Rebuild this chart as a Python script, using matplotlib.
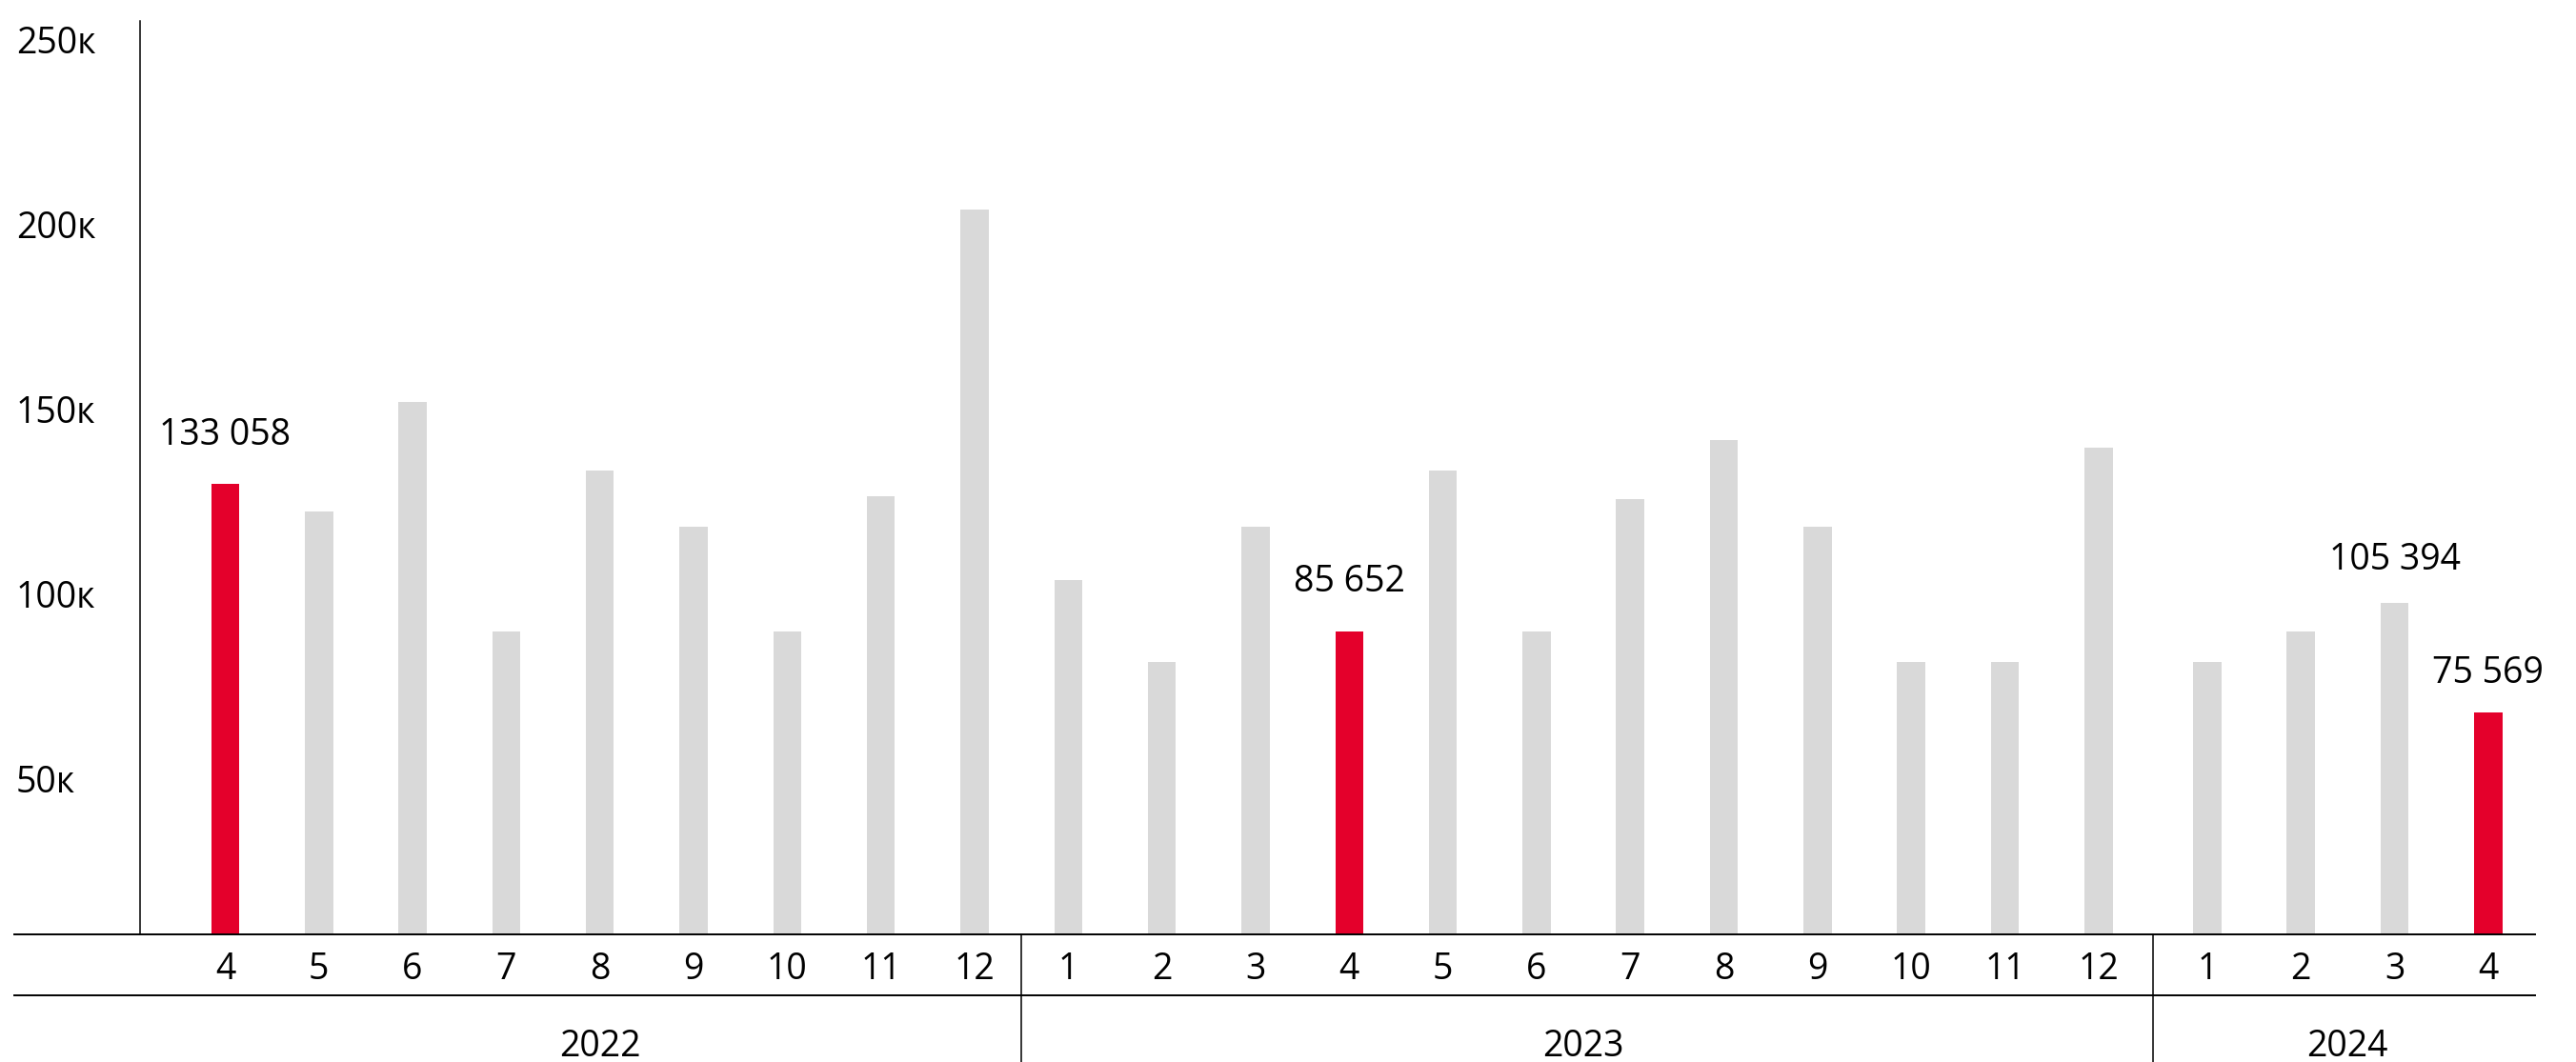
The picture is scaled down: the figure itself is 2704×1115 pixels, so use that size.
import numpy as np
import matplotlib.pyplot as plt
from matplotlib import transforms
from matplotlib.lines import Line2D

plt.rcParams['font.family'] = ['Open Sans', 'DejaVu Sans']

# данные
YEARS = ["2022", "2023", "2024"]
MONTHS = [
    [4, 5, 6, 7, 8, 9, 10, 11, 12],
    [1, 2, 3, 4, 5, 6, 7, 8, 9, 10, 11, 12],
    [1, 2, 3, 4],
]
VALUES = [
    130900, 123500, 153100, 91000, 134500, 119300, 91000, 127600, 205200,
    104900, 82700, 119300, 91000, 134500, 91000, 126800, 142800, 119300, 82700, 82700, 140700,
    82700, 91000, 98700, 69100,
]
RED_BARS = [0, 12, 24]
VALUE_LABELS = {0: "133 058", 12: "85 652", 23: "105 394", 24: "75 569"}
LABEL_OFFSETS = {0: 36.5, 12: 37.5, 23: 32.5, 24: 29.5}  # pt над столбцом
YTICKS = [50000, 100000, 150000, 200000, 250000]
YTICK_LABELS = ["50к", "100к", "150к", "200к", "250к"]

RED = "#E4002B"
GREY = "#D9D9D9"
FS = 27
W, H = 2704, 1115

# позиции столбцов (небольшой разрыв перед 2024)
year_idx = np.concatenate([[i] * len(m) for i, m in enumerate(MONTHS)])
x = np.arange(len(VALUES)) + np.array([0, 0, 0.16])[year_idx]
colors = [RED if i in RED_BARS else GREY for i in range(len(VALUES))]

fig = plt.figure(figsize=(W / 100, H / 100), dpi=100)
ax = fig.add_axes([147 / W, 1 - 981 / H, (2661 - 147) / W, (981 - 22) / H])
ax.bar(x, VALUES, width=0.3, color=colors)
ax.set_xlim(-0.91, 24.66)
ax.set_ylim(9000, 256200)

for s in ["top", "right", "bottom"]:
    ax.spines[s].set_visible(False)
ax.spines["left"].set_linewidth(1.1)
ax.set_xticks([])
ax.set_yticks([])

# подписи оси Y
ty = transforms.blended_transform_factory(fig.transFigure, ax.transData)
for v, lab in zip(YTICKS, YTICK_LABELS):
    ax.text(17 / W, v, lab, transform=ty, ha="left", va="center", fontsize=FS)

# подписи значений
for i, lab in VALUE_LABELS.items():
    ax.annotate(lab, (x[i], VALUES[i]), xytext=(0, LABEL_OFFSETS[i]),
                textcoords="offset points", ha="center", va="center", fontsize=FS)

# горизонтальные линии под графиком
for yy in [981, 1045]:
    fig.add_artist(Line2D([15 / W, 2661 / W], [1 - yy / H] * 2,
                          transform=fig.transFigure, color="black", lw=1.4))

tx = transforms.blended_transform_factory(ax.transData, fig.transFigure)

# месяцы
month_list = [m for ms in MONTHS for m in ms]
for xi, m in zip(x, month_list):
    ax.text(xi, 1 - 1018 / H, str(m), transform=tx, ha="center", va="center",
            fontsize=FS, clip_on=False)

# годы и разделители
start = 0
for k, (yr, ms) in enumerate(zip(YEARS, MONTHS)):
    end = start + len(ms) - 1
    ax.text((x[start] + x[end]) / 2, 1 - 1099 / H, yr, transform=tx,
            ha="center", va="center", fontsize=FS, clip_on=False)
    if k < len(YEARS) - 1:
        sep = (x[end] + x[end + 1]) / 2
        fig.add_artist(Line2D([sep, sep], [0, 1 - 981 / H], transform=tx,
                              color="black", lw=1.1))
    start = end + 1

fig.savefig("out.png", dpi=100)
